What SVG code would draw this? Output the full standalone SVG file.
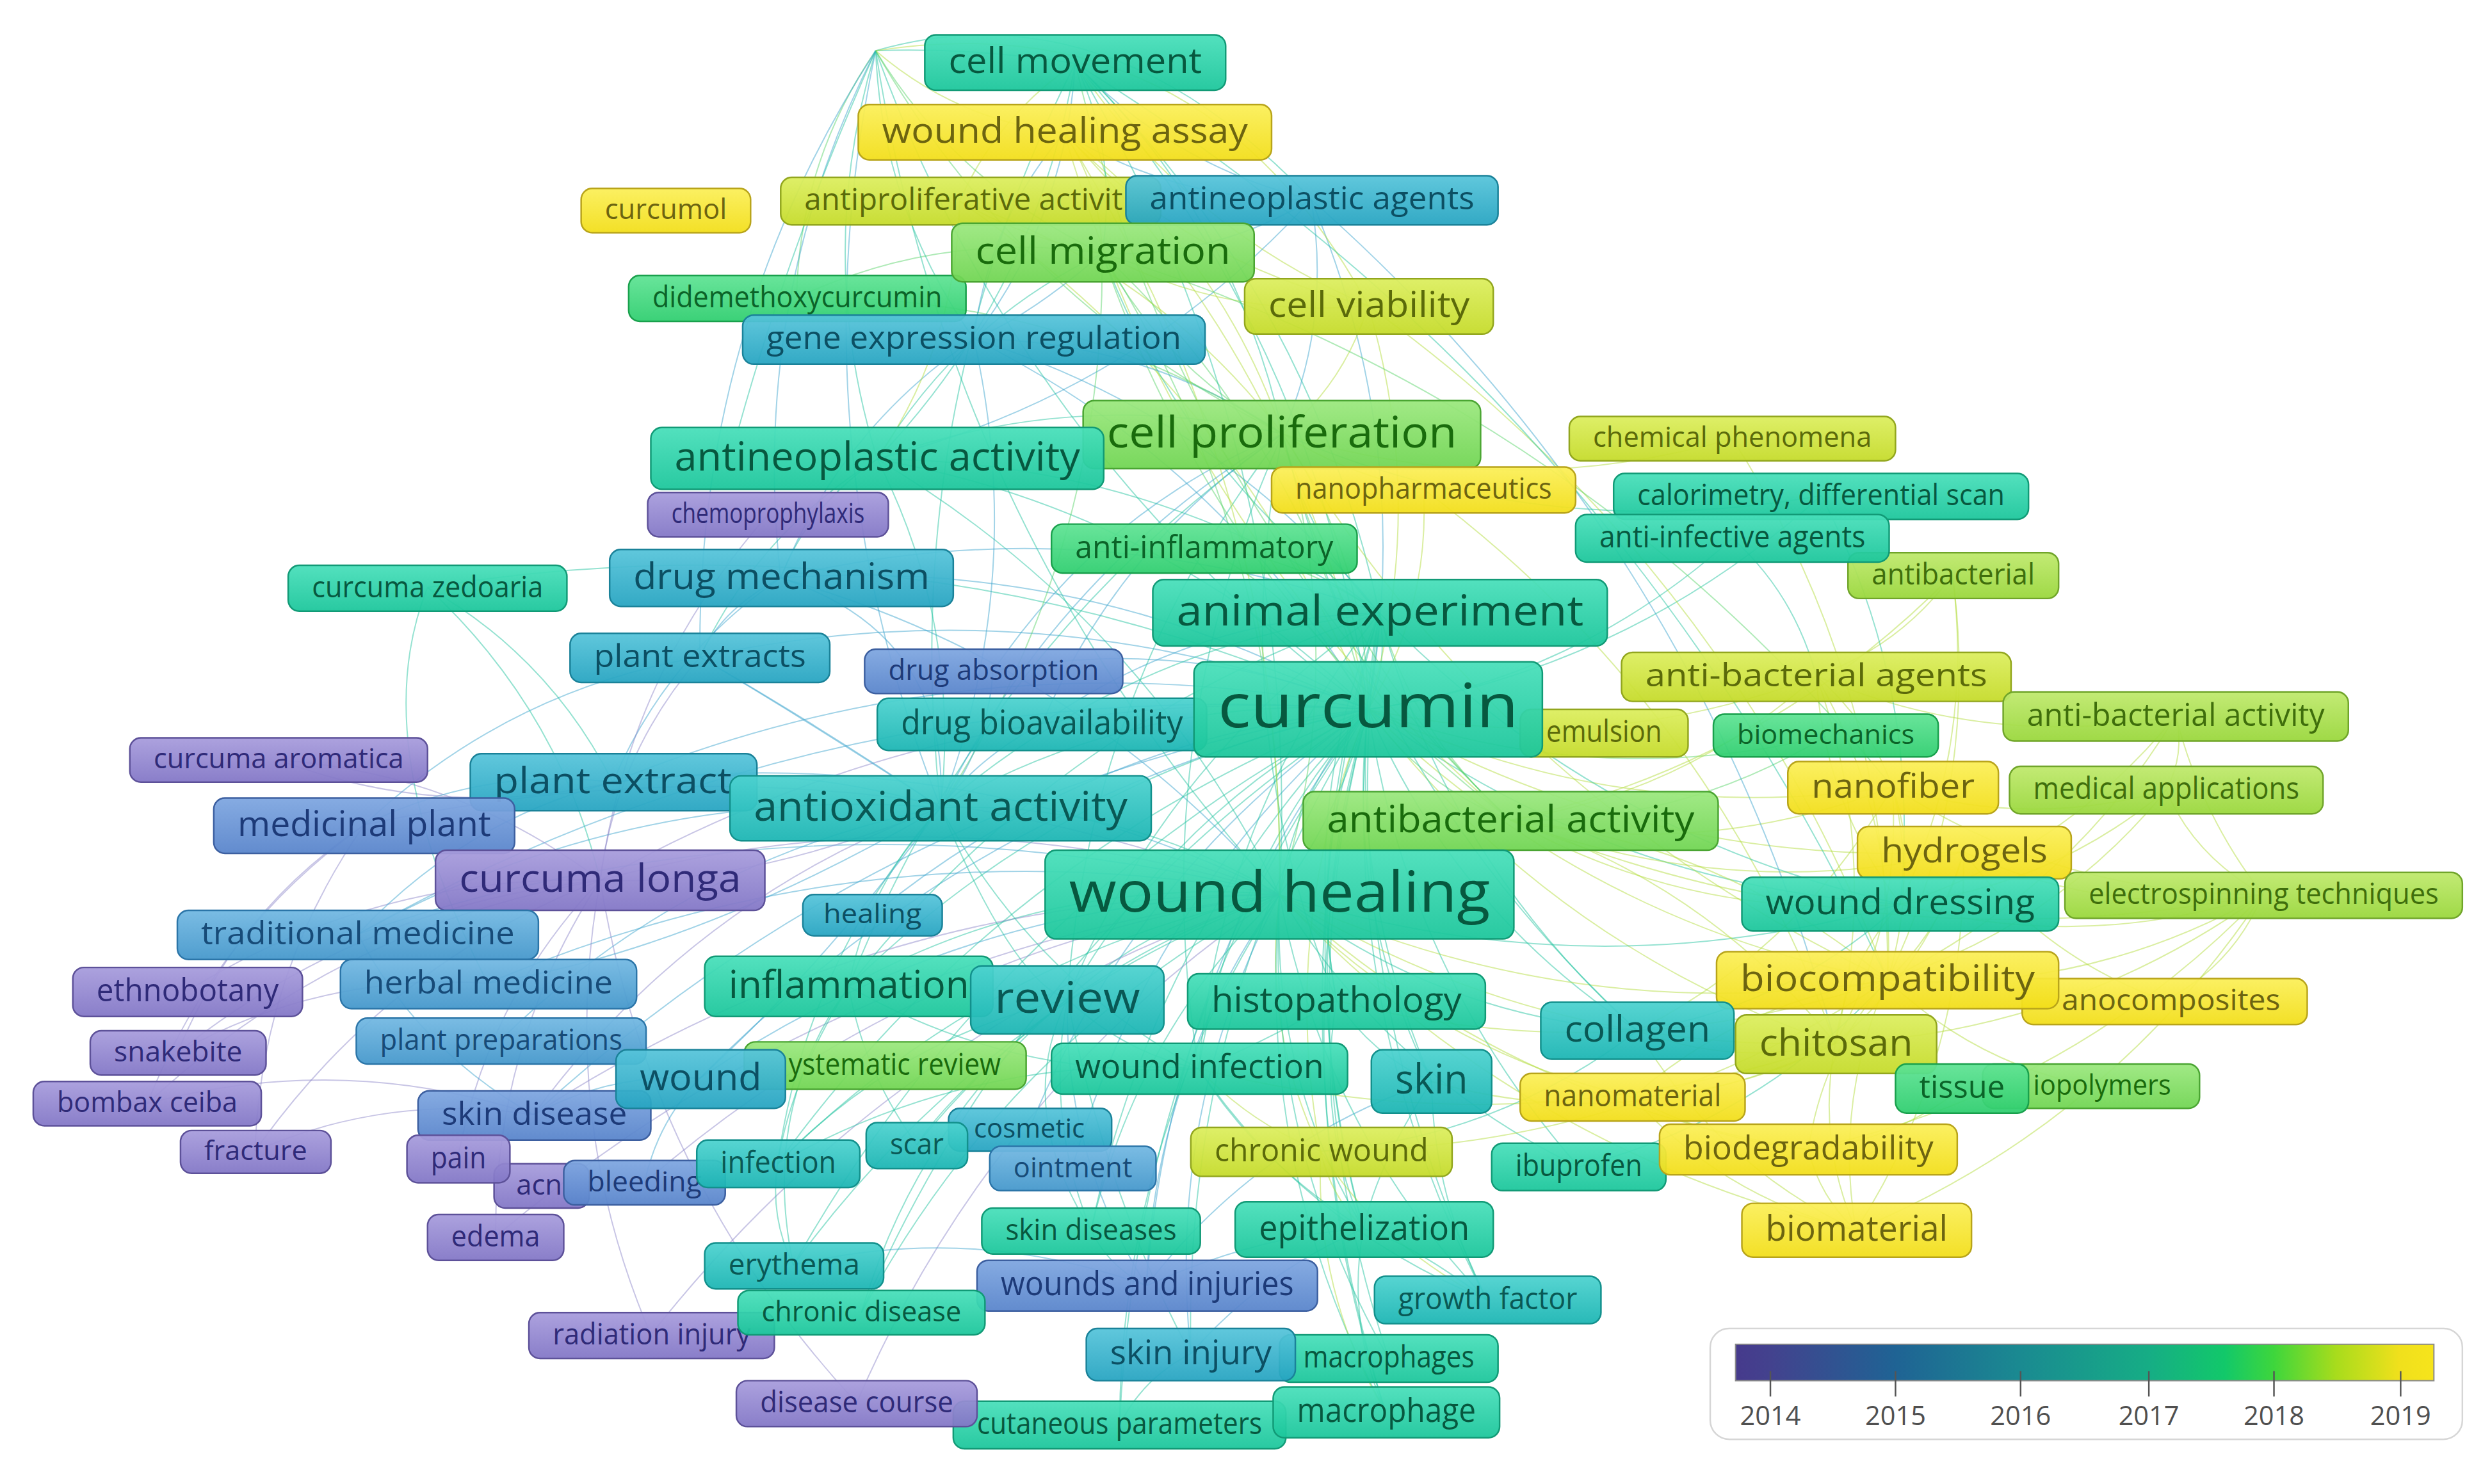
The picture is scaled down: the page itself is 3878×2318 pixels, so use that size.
<svg xmlns="http://www.w3.org/2000/svg" width="3878" height="2318" viewBox="0 0 3878 2318">
<style>
#connectors path{fill:none;stroke-width:.8;stroke-opacity:.48}
.e1{stroke:#22c29e}.e2{stroke:#3aa4cc}.e3{stroke:#b2dc3a}.e4{stroke:#8c86c8}.e5{stroke:#58d468}
#nodes rect{stroke-width:1;fill-opacity:.94;rx:7px;ry:7px}
#nodes text{font-family:'Open Sans','Liberation Sans',sans-serif;text-anchor:middle}
#nodes text.st{text-anchor:start}
.P rect{fill:url(#gP);stroke:#5d5199}.P text{fill:#2f2a78}
.B1 rect{fill:url(#gB1);stroke:#3c5fa0}.B1 text{fill:#1d3a78}
.B2 rect{fill:url(#gB2);stroke:#2b75a8}.B2 text{fill:#174b78}
.T1 rect{fill:url(#gT1);stroke:#1a8299}.T1 text{fill:#0c4f63}
.T2 rect{fill:url(#gT2);stroke:#12908c}.T2 text{fill:#095855}
.G1 rect{fill:url(#gG1);stroke:#119a76}.G1 text{fill:#07583f}
.G2 rect{fill:url(#gG2);stroke:#19a04c}.G2 text{fill:#0b6328}
.G3 rect{fill:url(#gG3);stroke:#4aa532}.G3 text{fill:#196b0c}
.Y1 rect{fill:url(#gY1);stroke:#70a52a}.Y1 text{fill:#3f6e0c}
.Y2 rect{fill:url(#gY2);stroke:#92a61e}.Y2 text{fill:#5b6a0a}
.Y3 rect{fill:url(#gY3);stroke:#b8a41a}.Y3 text{fill:#6c6410}
#legend text{font-family:'Open Sans','Liberation Sans',sans-serif;font-size:16.8px;fill:#505050;text-anchor:middle}
#legend line{stroke:#555;stroke-width:1}
</style>
<defs>
<linearGradient id="gP" x1="0" y1="0" x2="0" y2="1"><stop offset="0" stop-color="#a79cdc"/><stop offset="1" stop-color="#8276c6"/></linearGradient>
<linearGradient id="gB1" x1="0" y1="0" x2="0" y2="1"><stop offset="0" stop-color="#7ea6e0"/><stop offset="1" stop-color="#5884cb"/></linearGradient>
<linearGradient id="gB2" x1="0" y1="0" x2="0" y2="1"><stop offset="0" stop-color="#72b8e2"/><stop offset="1" stop-color="#4497cb"/></linearGradient>
<linearGradient id="gT1" x1="0" y1="0" x2="0" y2="1"><stop offset="0" stop-color="#56c4da"/><stop offset="1" stop-color="#26a4c1"/></linearGradient>
<linearGradient id="gT2" x1="0" y1="0" x2="0" y2="1"><stop offset="0" stop-color="#4cd2cf"/><stop offset="1" stop-color="#1bb5b3"/></linearGradient>
<linearGradient id="gG1" x1="0" y1="0" x2="0" y2="1"><stop offset="0" stop-color="#48dfba"/><stop offset="1" stop-color="#1bc69b"/></linearGradient>
<linearGradient id="gG2" x1="0" y1="0" x2="0" y2="1"><stop offset="0" stop-color="#5fe394"/><stop offset="1" stop-color="#2fce6f"/></linearGradient>
<linearGradient id="gG3" x1="0" y1="0" x2="0" y2="1"><stop offset="0" stop-color="#9be87e"/><stop offset="1" stop-color="#70d552"/></linearGradient>
<linearGradient id="gY1" x1="0" y1="0" x2="0" y2="1"><stop offset="0" stop-color="#bfe96c"/><stop offset="1" stop-color="#99d73b"/></linearGradient>
<linearGradient id="gY2" x1="0" y1="0" x2="0" y2="1"><stop offset="0" stop-color="#dcee5e"/><stop offset="1" stop-color="#c5db29"/></linearGradient>
<linearGradient id="gY3" x1="0" y1="0" x2="0" y2="1"><stop offset="0" stop-color="#fbef58"/><stop offset="1" stop-color="#f2de19"/></linearGradient>
<linearGradient id="gBar" x1="0" y1="0" x2="1" y2="0">
<stop offset="0" stop-color="#463a8c"/><stop offset="0.05" stop-color="#43428e"/><stop offset="0.229" stop-color="#1f6394"/><stop offset="0.408" stop-color="#1a8a91"/><stop offset="0.592" stop-color="#16ad85"/><stop offset="0.70" stop-color="#12c86a"/><stop offset="0.771" stop-color="#3ed63c"/><stop offset="0.86" stop-color="#a8dc1c"/><stop offset="0.95" stop-color="#f0e01c"/><stop offset="1" stop-color="#f6e41c"/>
</linearGradient>
</defs>
<rect width="3878" height="2318" fill="#ffffff"/>
<g transform="scale(2.4732)">
<g id="connectors">
<path class="e1" d="M864 448Q833 216 679 40"/><path class="e3" d="M864 448Q823 237 672 84"/><path class="e3" d="M864 448Q783 249 606 127"/><path class="e2" d="M864 448Q894 282 828 126"/><path class="e5" d="M864 448Q823 279 696 160"/><path class="e2" d="M864 448Q775 294 615 214"/><path class="e5" d="M864 448Q863 353 810 274"/><path class="e1" d="M864 448Q733 322 554 290"/><path class="e3" d="M864 448Q903 384 899 309"/><path class="e1" d="M864 448Q1027 424 1150 313"/><path class="e1" d="M864 448Q995 429 1094 340"/><path class="e2" d="M864 448Q691 351 493 365"/><path class="e1" d="M864 448Q877 419 871 387"/><path class="e2" d="M864 448Q658 369 442 415"/><path class="e2" d="M864 448Q750 400 627 424"/><path class="e2" d="M864 448Q619 399 387 494"/><path class="e1" d="M864 448Q720 438 594 510"/><path class="e5" d="M864 448Q898 497 954 518"/><path class="e4" d="M864 448Q606 429 379 556"/><path class="e1" d="M864 448Q818 499 808 565"/><path class="e2" d="M864 448Q688 466 551 578"/><path class="e2" d="M864 448Q524 423 226 590"/><path class="e1" d="M864 448Q674 487 536 623"/><path class="e1" d="M864 448Q742 511 674 631"/><path class="e1" d="M864 448Q826 537 844 632"/><path class="e1" d="M864 448Q919 576 1034 651"/><path class="e3" d="M864 448Q980 598 1159 659"/><path class="e2" d="M864 448Q618 502 442 681"/><path class="e1" d="M864 448Q777 546 757 675"/><path class="e1" d="M864 448Q849 572 904 683"/><path class="e2" d="M864 448Q563 497 337 704"/><path class="e1" d="M864 448Q635 536 491 735"/><path class="e2" d="M864 448Q717 549 650 713"/><path class="e2" d="M864 448Q727 565 677 738"/><path class="e3" d="M864 448Q807 583 834 727"/><path class="e1" d="M864 448Q888 613 997 737"/><path class="e1" d="M864 448Q728 587 689 777"/><path class="e1" d="M864 448Q814 612 861 776"/><path class="e1" d="M864 448Q630 570 501 799"/><path class="e2" d="M864 448Q739 609 724 812"/><path class="e1" d="M864 448Q846 646 939 821"/><path class="e1" d="M864 448Q647 591 544 829"/><path class="e1" d="M864 448Q747 635 752 855"/><path class="e1" d="M864 448Q809 655 877 858"/><path class="e1" d="M864 448Q803 672 875 892"/><path class="e1" d="M864 448Q718 650 707 900"/><path class="e1" d="M864 448Q579 321 270 371"/><path class="e3" d="M864 448Q1002 583 1192 619"/><path class="e1" d="M864 448Q1014 560 1200 571"/><path class="e3" d="M864 448Q1023 523 1195 497"/><path class="e3" d="M864 448Q1038 549 1240 538"/><path class="e3" d="M864 448Q1009 480 1147 427"/><path class="e5" d="M864 448Q1006 500 1153 465"/><path class="e3" d="M864 448Q902 321 864 193"/><path class="e5" d="M864 448Q827 381 760 346"/>
<path class="e1" d="M808 565Q823 284 679 40"/><path class="e5" d="M808 565Q813 346 696 160"/><path class="e5" d="M808 565Q853 420 810 274"/><path class="e1" d="M808 565Q722 390 554 290"/><path class="e2" d="M808 565Q681 418 493 365"/><path class="e1" d="M808 565Q867 485 871 387"/><path class="e2" d="M808 565Q609 467 387 494"/><path class="e1" d="M808 565Q709 506 594 510"/><path class="e4" d="M808 565Q526 456 230 521"/><path class="e4" d="M808 565Q595 497 379 556"/><path class="e2" d="M808 565Q513 491 226 590"/><path class="e2" d="M808 565Q550 518 308 621"/><path class="e1" d="M808 565Q663 553 536 623"/><path class="e1" d="M808 565Q731 578 674 631"/><path class="e1" d="M808 565Q908 642 1034 651"/><path class="e3" d="M808 565Q970 665 1159 659"/><path class="e3" d="M808 565Q992 650 1192 619"/><path class="e1" d="M808 565Q1003 627 1200 571"/><path class="e2" d="M808 565Q608 568 442 681"/><path class="e4" d="M808 565Q552 564 337 704"/><path class="e4" d="M808 565Q581 596 407 747"/><path class="e1" d="M808 565Q624 602 491 735"/><path class="e1" d="M808 565Q670 610 579 723"/><path class="e3" d="M808 565Q797 650 834 727"/><path class="e1" d="M808 565Q803 679 861 776"/><path class="e1" d="M808 565Q717 653 689 777"/><path class="e1" d="M808 565Q620 636 501 799"/><path class="e2" d="M808 565Q729 676 724 812"/><path class="e1" d="M808 565Q836 713 939 821"/><path class="e2" d="M808 565Q736 702 752 855"/><path class="e1" d="M808 565Q799 722 877 858"/><path class="e1" d="M808 565Q793 739 875 892"/><path class="e4" d="M808 565Q568 644 411 843"/><path class="e4" d="M808 565Q529 599 313 781"/><path class="e1" d="M808 565Q636 657 544 829"/><path class="e4" d="M808 565Q627 686 541 886"/><path class="e1" d="M808 565Q708 718 707 900"/><path class="e1" d="M808 565Q877 679 997 737"/><path class="e3" d="M808 565Q901 662 1031 693"/><path class="e3" d="M808 565Q951 696 1142 726"/><path class="e3" d="M808 565Q958 726 1172 777"/>
<path class="e3" d="M1192 619Q1228 585 1240 538"/><path class="e3" d="M1192 619Q1211 558 1195 497"/><path class="e3" d="M1192 619Q1151 664 1142 726"/><path class="e3" d="M1192 619Q1158 695 1172 777"/><path class="e3" d="M1192 619Q1100 632 1031 693"/><path class="e3" d="M1192 619Q1318 628 1429 565"/><path class="e3" d="M1192 619Q1246 671 1320 686"/><path class="e3" d="M1192 619Q1298 585 1368 499"/><path class="e3" d="M1192 619Q1308 562 1374 452"/><path class="e3" d="M1192 619Q1198 516 1147 427"/><path class="e3" d="M1192 619Q1088 532 954 518"/><path class="e3" d="M1159 659Q1218 610 1240 538"/><path class="e3" d="M1159 659Q1201 583 1195 497"/><path class="e3" d="M1159 659Q1147 720 1172 777"/><path class="e3" d="M1159 659Q1188 541 1147 427"/><path class="e3" d="M1159 659Q1077 557 954 518"/><path class="e3" d="M1159 659Q1308 652 1429 565"/><path class="e3" d="M1200 571Q1208 533 1195 497"/><path class="e3" d="M1200 571Q1315 602 1429 565"/><path class="e3" d="M1200 571Q1295 560 1368 499"/><path class="e3" d="M1200 571Q1305 537 1374 452"/><path class="e3" d="M1200 571Q1166 609 1159 659"/><path class="e3" d="M1147 427Q1256 474 1374 452"/><path class="e3" d="M1147 427Q1200 408 1233 363"/><path class="e3" d="M954 518Q1116 482 1233 363"/><path class="e3" d="M954 518Q1064 501 1147 427"/><path class="e3" d="M954 518Q1077 543 1195 497"/><path class="e3" d="M954 518Q1094 571 1240 538"/><path class="e3" d="M954 518Q1184 612 1429 565"/><path class="e5" d="M954 518Q1061 521 1153 465"/><path class="e3" d="M1195 497Q1302 566 1429 565"/><path class="e3" d="M1195 497Q1281 524 1368 499"/><path class="e3" d="M1240 538Q1289 604 1367 632"/><path class="e3" d="M1142 726Q1149 756 1172 777"/><path class="e3" d="M1142 726Q1196 721 1239 687"/><path class="e3" d="M1034 651Q1095 674 1159 659"/><path class="e3" d="M1034 651Q1084 735 1172 777"/><path class="e3" d="M1031 693Q1088 756 1172 777"/><path class="e3" d="M1094 277Q1194 433 1192 619"/><path class="e1" d="M1150 313Q1214 434 1200 571"/><path class="e1" d="M1094 340Q1133 375 1147 427"/><path class="e3" d="M1233 363Q1247 472 1200 571"/><path class="e3" d="M899 309Q1081 445 1159 659"/><path class="e3" d="M834 727Q1029 727 1192 619"/><path class="e1" d="M834 727Q945 719 1034 651"/>
<path class="e3" d="M1147 427Q1180 455 1195 497"/><path class="e3" d="M1147 427Q1152 507 1200 571"/><path class="e3" d="M1374 452Q1390 515 1429 565"/><path class="e3" d="M1374 452Q1380 476 1368 499"/><path class="e3" d="M1368 499Q1385 540 1429 565"/><path class="e3" d="M1240 538Q1331 580 1429 565"/><path class="e3" d="M1031 693Q1100 690 1159 659"/><path class="e3" d="M1142 726Q1080 720 1031 693"/><path class="e3" d="M1192 619Q1251 497 1233 363"/><path class="e3" d="M1429 565Q1410 610 1367 632"/><path class="e3" d="M1142 726Q1310 689 1429 565"/><path class="e3" d="M1172 777Q1332 710 1429 565"/><path class="e3" d="M1172 777Q1242 668 1240 538"/><path class="e1" d="M997 737Q1112 707 1192 619"/><path class="e3" d="M757 675Q960 727 1159 659"/><path class="e3" d="M844 632Q1020 678 1192 619"/><path class="e3" d="M904 683Q1033 720 1159 659"/><path class="e1" d="M1034 651Q1129 636 1200 571"/><path class="e3" d="M1034 651Q1138 598 1195 497"/><path class="e3" d="M954 518Q1069 582 1200 571"/>
<path class="e1" d="M871 387Q714 407 594 510"/><path class="e1" d="M871 387Q668 455 536 623"/><path class="e1" d="M871 387Q736 479 674 631"/><path class="e1" d="M871 387Q821 506 844 632"/><path class="e1" d="M871 387Q771 514 757 675"/><path class="e1" d="M871 387Q913 543 1034 651"/><path class="e1" d="M871 387Q808 580 861 776"/><path class="e1" d="M871 387Q843 540 904 683"/><path class="e5" d="M871 387Q893 465 954 518"/><path class="e1" d="M871 387Q1008 528 1200 571"/><path class="e1" d="M871 387Q840 614 939 821"/><path class="e1" d="M871 387Q797 640 875 892"/><path class="e2" d="M871 387Q754 390 658 457"/><path class="e2" d="M871 387Q769 262 615 214"/><path class="e1" d="M871 387Q827 185 679 40"/><path class="e2" d="M871 387Q685 319 493 365"/><path class="e1" d="M871 387Q727 291 554 290"/><path class="e5" d="M871 387Q815 350 760 346"/>
<path class="e1" d="M594 510Q548 558 536 623"/><path class="e1" d="M594 510Q607 394 554 290"/><path class="e2" d="M594 510Q649 365 615 214"/><path class="e5" d="M594 510Q698 350 696 160"/><path class="e1" d="M594 510Q651 617 757 675"/><path class="e2" d="M594 510Q624 472 627 424"/><path class="e2" d="M594 510Q398 495 226 590"/><path class="e4" d="M594 510Q437 568 337 704"/><path class="e2" d="M594 510Q433 542 316 657"/><path class="e1" d="M594 510Q509 607 491 735"/>
<path class="e1" d="M810 274Q723 467 757 675"/><path class="e1" d="M810 274Q773 458 844 632"/><path class="e1" d="M810 274Q688 432 674 631"/><path class="e1" d="M810 274Q621 407 536 623"/><path class="e1" d="M810 274Q865 496 1034 651"/><path class="e3" d="M810 274Q949 504 1192 619"/><path class="e2" d="M810 274Q696 322 627 424"/><path class="e2" d="M810 274Q707 343 658 457"/><path class="e1" d="M810 274Q974 345 1150 313"/><path class="e3" d="M810 274Q952 318 1094 277"/><path class="e3" d="M810 274Q850 300 899 309"/>
<path class="e3" d="M696 160Q645 150 606 127"/><path class="e5" d="M696 160Q595 145 503 188"/><path class="e2" d="M696 160Q650 200 615 214"/><path class="e1" d="M696 160Q605 204 554 290"/><path class="e1" d="M696 160Q749 300 871 387"/><path class="e5" d="M696 160Q771 378 954 518"/><path class="e2" d="M696 160Q767 163 828 126"/><path class="e3" d="M679 40Q749 144 864 193"/><path class="e2" d="M679 40Q741 105 828 126"/><path class="e3" d="M679 40Q630 73 606 127"/><path class="e5" d="M679 40Q745 320 954 518"/><path class="e1" d="M679 40Q566 262 594 510"/><path class="e2" d="M672 84Q744 128 828 126"/><path class="e3" d="M672 84Q752 167 864 193"/><path class="e2" d="M672 84Q624 140 615 214"/><path class="e3" d="M672 84Q748 343 954 518"/>
<path class="e1" d="M844 632Q795 660 757 675"/><path class="e1" d="M844 632Q831 707 861 776"/><path class="e1" d="M844 632Q866 666 904 683"/><path class="e1" d="M674 631Q710 665 757 675"/><path class="e1" d="M674 631Q567 656 491 735"/><path class="e1" d="M674 631Q660 706 689 777"/><path class="e2" d="M674 631Q672 729 724 812"/><path class="e1" d="M674 631Q579 710 544 829"/><path class="e1" d="M536 623Q639 682 757 675"/><path class="e1" d="M536 623Q500 680 491 735"/><path class="e1" d="M536 623Q545 676 579 723"/><path class="e1" d="M757 675Q795 735 861 776"/><path class="e1" d="M757 675Q615 665 491 735"/><path class="e1" d="M757 675Q826 775 939 821"/><path class="e3" d="M757 675Q790 710 834 727"/><path class="e1" d="M904 683Q870 735 861 776"/><path class="e1" d="M904 683Q905 755 939 821"/><path class="e2" d="M904 683Q795 720 724 812"/><path class="e2" d="M861 776Q795 780 724 812"/><path class="e2" d="M861 776Q795 805 752 855"/><path class="e1" d="M861 776Q850 835 875 892"/><path class="e3" d="M834 727Q830 816 875 892"/><path class="e3" d="M834 727Q870 785 939 821"/><path class="e2" d="M493 365Q455 385 442 415"/><path class="e2" d="M493 365Q421 414 387 494"/><path class="e2" d="M442 415Q510 455 594 510"/><path class="e4" d="M442 415Q389 476 379 556"/><path class="e2" d="M442 415Q320 436 230 521"/><path class="e2" d="M658 457Q618 478 594 510"/><path class="e1" d="M554 290Q510 320 493 365"/><path class="e1" d="M554 290Q479 336 442 415"/><path class="e4" d="M485 325Q397 425 379 556"/><path class="e2" d="M615 214Q531 271 493 365"/>
<path class="e1" d="M696 160Q706 97 679 40"/><path class="e3" d="M696 160Q695 118 672 84"/><path class="e3" d="M696 160Q775 202 864 193"/><path class="e5" d="M696 160Q736 234 810 274"/><path class="e1" d="M810 274Q780 137 679 40"/><path class="e3" d="M810 274Q770 158 672 84"/><path class="e2" d="M810 274Q841 203 828 126"/><path class="e3" d="M810 274Q849 242 864 193"/><path class="e3" d="M810 274Q730 170 606 127"/><path class="e2" d="M810 274Q722 215 615 214"/><path class="e1" d="M810 274Q680 244 554 290"/><path class="e1" d="M810 274Q824 340 871 387"/><path class="e2" d="M810 274Q667 360 594 510"/><path class="e5" d="M810 274Q845 418 954 518"/><path class="e5" d="M810 274Q670 185 503 188"/><path class="e2" d="M554 290Q716 249 828 126"/><path class="e3" d="M554 290Q604 217 606 127"/><path class="e1" d="M554 290Q655 184 679 40"/><path class="e2" d="M615 214Q673 137 679 40"/>
<path class="e1" d="M553 32Q557 132 615 214"/><path class="e1" d="M553 32Q514 161 554 290"/><path class="e5" d="M553 32Q505 102 503 188"/><path class="e5" d="M553 32Q605 117 696 160"/><path class="e2" d="M553 32Q473 189 493 365"/><path class="e2" d="M553 32Q440 206 442 415"/><path class="e1" d="M553 32Q646 287 864 448"/><path class="e1" d="M553 32Q600 336 808 565"/><path class="e2" d="M553 32Q501 277 594 510"/><path class="e1" d="M553 32Q616 30 679 40"/><path class="e3" d="M553 32Q604 76 672 84"/><path class="e5" d="M553 32Q645 192 810 274"/><path class="e1" d="M553 32Q500 150 466 272"/><path class="e1" d="M553 32Q700 -10 828 126"/><path class="e3" d="M553 32Q760 0 864 193"/>
<path class="e3" d="M864 193Q1092 357 1192 619"/><path class="e2" d="M828 126Q1073 342 1159 659"/><path class="e3" d="M672 84Q812 304 808 565"/><path class="e1" d="M679 40Q1022 252 1192 619"/><path class="e5" d="M696 160Q996 253 1195 497"/>
<path class="e4" d="M379 556Q289 488 176 480"/><path class="e4" d="M379 556Q238 552 118 626"/><path class="e4" d="M379 556Q230 571 112 665"/><path class="e4" d="M379 556Q215 584 93 697"/><path class="e4" d="M379 556Q244 609 161 727"/><path class="e4" d="M379 556Q308 630 289 732"/><path class="e4" d="M379 556Q312 659 313 781"/><path class="e4" d="M379 556Q352 705 411 843"/><path class="e4" d="M379 556Q410 745 541 886"/><path class="e1" d="M379 556Q353 448 270 371"/><path class="e4" d="M230 521Q149 575 112 665"/><path class="e4" d="M230 521Q136 588 93 697"/><path class="e4" d="M230 521Q165 614 161 727"/><path class="e2" d="M226 590Q265 664 337 704"/><path class="e4" d="M308 621Q203 614 112 665"/><path class="e4" d="M337 704Q216 664 93 697"/><path class="e4" d="M337 704Q246 690 161 727"/><path class="e1" d="M387 494Q347 415 270 371"/><path class="e2" d="M387 494Q305 484 230 521"/><path class="e2" d="M387 494Q293 518 226 590"/><path class="e2" d="M442 681Q387 677 337 704"/><path class="e2" d="M442 681Q415 709 407 747"/><path class="e1" d="M491 735Q486 769 501 799"/><path class="e4" d="M176 480Q279 519 387 494"/><path class="e1" d="M270 371Q230 470 308 621"/>
<path class="e2" d="M594 510Q500 480 387 494"/><path class="e2" d="M594 510Q520 610 442 681"/><path class="e2" d="M594 510Q600 400 493 365"/><path class="e1" d="M594 510Q640 620 674 631"/><path class="e4" d="M594 510Q470 560 379 556"/><path class="e2" d="M594 510Q440 600 308 621"/><path class="e2" d="M594 510Q520 460 442 415"/>
<path class="e2" d="M724 812Q614 772 501 799"/><path class="e1" d="M752 855Q722 870 707 900"/><path class="e1" d="M939 821Q893 786 861 776"/><path class="e1" d="M689 777Q700 800 724 812"/><path class="e3" d="M834 727Q840 755 861 776"/><path class="e1" d="M674 631Q640 700 689 777"/><path class="e1" d="M674 631Q600 690 579 723"/><path class="e1" d="M674 631Q700 760 752 855"/><path class="e1" d="M536 623Q480 700 501 799"/>
</g>
<g id="nodes">
<g id="node-wound-healing-assay" class="Y3"><rect x="542" y="66" width="261" height="35"/><text x="672.5" y="90.2" font-size="22.4" textLength="231" lengthAdjust="spacingAndGlyphs">wound healing assay</text></g>
<g id="node-cell-movement" class="G1"><rect x="584" y="22" width="190" height="35"/><text x="679" y="46.2" font-size="22.4" textLength="160" lengthAdjust="spacingAndGlyphs">cell movement</text></g>
<g id="node-curcumol" class="Y3"><rect x="367" y="119" width="107" height="28"/><text x="420.5" y="138.4" font-size="17.9" textLength="77" lengthAdjust="spacingAndGlyphs">curcumol</text></g>
<g id="node-antiproliferative-activity" class="Y2"><rect x="493" y="112" width="240" height="30"/><text class="st" x="508" y="132.8" font-size="19.2" textLength="201" lengthAdjust="spacingAndGlyphs">antiproliferative activit</text></g>
<g id="node-antineoplastic-agents" class="T1"><rect x="711" y="111" width="235" height="31"/><text x="828.5" y="132.4" font-size="19.8" textLength="205" lengthAdjust="spacingAndGlyphs">antineoplastic agents</text></g>
<g id="node-didemethoxycurcumin" class="G2"><rect x="397" y="174" width="213" height="29"/><text x="503.5" y="194.1" font-size="18.6" textLength="183" lengthAdjust="spacingAndGlyphs">didemethoxycurcumin</text></g>
<g id="node-gene-expression-regulation" class="T1"><rect x="469" y="199" width="292" height="31"/><text x="615" y="220.4" font-size="19.8" textLength="262" lengthAdjust="spacingAndGlyphs">gene expression regulation</text></g>
<g id="node-cell-migration" class="G3"><rect x="601" y="141" width="191" height="37"/><text x="696.5" y="166.6" font-size="23.7" textLength="161" lengthAdjust="spacingAndGlyphs">cell migration</text></g>
<g id="node-cell-viability" class="Y2"><rect x="786" y="176" width="157" height="35"/><text x="864.5" y="200.2" font-size="22.4" textLength="127" lengthAdjust="spacingAndGlyphs">cell viability</text></g>
<g id="node-cell-proliferation" class="G3"><rect x="684" y="253" width="251" height="43"/><text x="809.5" y="282.8" font-size="27.5" textLength="221" lengthAdjust="spacingAndGlyphs">cell proliferation</text></g>
<g id="node-antineoplastic-activity" class="G1"><rect x="411" y="270" width="286" height="39"/><text x="554" y="297" font-size="25" textLength="256" lengthAdjust="spacingAndGlyphs">antineoplastic activity</text></g>
<g id="node-chemical-phenomena" class="Y2"><rect x="991" y="263" width="206" height="28"/><text x="1094" y="282.4" font-size="17.9" textLength="176" lengthAdjust="spacingAndGlyphs">chemical phenomena</text></g>
<g id="node-nanopharmaceutics" class="Y3"><rect x="803" y="295" width="192" height="29"/><text x="899" y="315.1" font-size="18.6" textLength="162" lengthAdjust="spacingAndGlyphs">nanopharmaceutics</text></g>
<g id="node-antibacterial" class="Y1"><rect x="1167" y="349" width="133" height="29"/><text x="1233.5" y="369.1" font-size="18.6" textLength="103" lengthAdjust="spacingAndGlyphs">antibacterial</text></g>
<g id="node-calorimetry-differential-scan" class="G1"><rect x="1019" y="299" width="262" height="29"/><text x="1150" y="319.1" font-size="18.6" textLength="232" lengthAdjust="spacingAndGlyphs">calorimetry, differential scan</text></g>
<g id="node-anti-infective-agents" class="G1"><rect x="995" y="325" width="198" height="30"/><text x="1094" y="345.8" font-size="19.2" textLength="168" lengthAdjust="spacingAndGlyphs">anti-infective agents</text></g>
<g id="node-chemoprophylaxis" class="P"><rect x="409" y="311" width="152" height="28"/><text x="485" y="330.4" font-size="17.9" textLength="122" lengthAdjust="spacingAndGlyphs">chemoprophylaxis</text></g>
<g id="node-anti-inflammatory" class="G2"><rect x="664" y="331" width="193" height="31"/><text x="760.5" y="352.4" font-size="19.8" textLength="163" lengthAdjust="spacingAndGlyphs">anti-inflammatory</text></g>
<g id="node-curcuma-zedoaria" class="G1"><rect x="182" y="357" width="176" height="29"/><text x="270" y="377.1" font-size="18.6" textLength="146" lengthAdjust="spacingAndGlyphs">curcuma zedoaria</text></g>
<g id="node-drug-mechanism" class="T1"><rect x="385" y="347" width="217" height="36"/><text x="493.5" y="371.9" font-size="23" textLength="187" lengthAdjust="spacingAndGlyphs">drug mechanism</text></g>
<g id="node-animal-experiment" class="G1"><rect x="728" y="366" width="287" height="42"/><text x="871.5" y="395.1" font-size="26.9" textLength="257" lengthAdjust="spacingAndGlyphs">animal experiment</text></g>
<g id="node-plant-extracts" class="T1"><rect x="360" y="400" width="164" height="31"/><text x="442" y="421.4" font-size="19.8" textLength="134" lengthAdjust="spacingAndGlyphs">plant extracts</text></g>
<g id="node-drug-absorption" class="B1"><rect x="546" y="410" width="163" height="28"/><text x="627.5" y="429.4" font-size="17.9" textLength="133" lengthAdjust="spacingAndGlyphs">drug absorption</text></g>
<g id="node-drug-bioavailability" class="T2"><rect x="554" y="441" width="208" height="33"/><text x="658" y="463.8" font-size="21.1" textLength="178" lengthAdjust="spacingAndGlyphs">drug bioavailability</text></g>
<g id="node-emulsion" class="Y2"><rect x="960" y="448" width="106" height="30"/><text x="1013" y="468.8" font-size="19.2" textLength="73" lengthAdjust="spacingAndGlyphs">emulsion</text></g>
<g id="node-curcumin" class="G1"><rect x="754" y="418" width="220" height="60"/><text x="864" y="459.5" font-size="38.4" textLength="190" lengthAdjust="spacingAndGlyphs">curcumin</text></g>
<g id="node-anti-bacterial-agents" class="Y2"><rect x="1024" y="412" width="246" height="31"/><text x="1147" y="433.4" font-size="19.8" textLength="216" lengthAdjust="spacingAndGlyphs">anti-bacterial agents</text></g>
<g id="node-anti-bacterial-activity" class="Y1"><rect x="1265" y="437" width="218" height="31"/><text x="1374" y="458.4" font-size="19.8" textLength="188" lengthAdjust="spacingAndGlyphs">anti-bacterial activity</text></g>
<g id="node-biomechanics" class="G2"><rect x="1082" y="451" width="142" height="27"/><text x="1153" y="469.7" font-size="17.3" textLength="112" lengthAdjust="spacingAndGlyphs">biomechanics</text></g>
<g id="node-curcuma-aromatica" class="P"><rect x="82" y="466" width="188" height="28"/><text x="176" y="485.4" font-size="17.9" textLength="158" lengthAdjust="spacingAndGlyphs">curcuma aromatica</text></g>
<g id="node-plant-extract" class="T1"><rect x="297" y="476" width="181" height="36"/><text x="387" y="500.9" font-size="23" textLength="150" lengthAdjust="spacingAndGlyphs">plant extract</text></g>
<g id="node-medicinal-plant" class="B1"><rect x="135" y="504" width="190" height="35"/><text x="230" y="528.2" font-size="22.4" textLength="160" lengthAdjust="spacingAndGlyphs">medicinal plant</text></g>
<g id="node-curcuma-longa" class="P"><rect x="275" y="537" width="208" height="38"/><text x="379" y="563.3" font-size="24.3" textLength="178" lengthAdjust="spacingAndGlyphs">curcuma longa</text></g>
<g id="node-antioxidant-activity" class="T2"><rect x="461" y="490" width="266" height="41"/><text x="594" y="518.4" font-size="26.2" textLength="236" lengthAdjust="spacingAndGlyphs">antioxidant activity</text></g>
<g id="node-nanofiber" class="Y3"><rect x="1129" y="481" width="133" height="33"/><text x="1195.5" y="503.8" font-size="21.1" textLength="103" lengthAdjust="spacingAndGlyphs">nanofiber</text></g>
<g id="node-medical-applications" class="Y1"><rect x="1269" y="484" width="198" height="30"/><text x="1368" y="504.8" font-size="19.2" textLength="168" lengthAdjust="spacingAndGlyphs">medical applications</text></g>
<g id="node-antibacterial-activity" class="G3"><rect x="823" y="500" width="262" height="37"/><text x="954" y="525.6" font-size="23.7" textLength="232" lengthAdjust="spacingAndGlyphs">antibacterial activity</text></g>
<g id="node-wound-healing" class="G1"><rect x="660" y="537" width="296" height="56"/><text x="808" y="575.7" font-size="35.8" textLength="266" lengthAdjust="spacingAndGlyphs">wound healing</text></g>
<g id="node-hydrogels" class="Y3"><rect x="1173" y="522" width="135" height="33"/><text x="1240.5" y="544.8" font-size="21.1" textLength="105" lengthAdjust="spacingAndGlyphs">hydrogels</text></g>
<g id="node-healing" class="T1"><rect x="507" y="565" width="88" height="26"/><text x="551" y="583" font-size="16.6" textLength="62" lengthAdjust="spacingAndGlyphs">healing</text></g>
<g id="node-electrospinning-techniques" class="Y1"><rect x="1304" y="551" width="251" height="29"/><text x="1429.5" y="571.1" font-size="18.6" textLength="221" lengthAdjust="spacingAndGlyphs">electrospinning techniques</text></g>
<g id="node-wound-dressing" class="G1"><rect x="1100" y="554" width="200" height="34"/><text x="1200" y="577.5" font-size="21.8" textLength="170" lengthAdjust="spacingAndGlyphs">wound dressing</text></g>
<g id="node-traditional-medicine" class="B2"><rect x="112" y="575" width="228" height="31"/><text x="226" y="596.4" font-size="19.8" textLength="198" lengthAdjust="spacingAndGlyphs">traditional medicine</text></g>
<g id="node-nanocomposites" class="Y3"><rect x="1277" y="618" width="180" height="29"/><text class="st" x="1302" y="638.1" font-size="18.6" textLength="138" lengthAdjust="spacingAndGlyphs">anocomposites</text></g>
<g id="node-biocompatibility" class="Y3"><rect x="1084" y="601" width="216" height="36"/><text x="1192" y="625.9" font-size="23" textLength="186" lengthAdjust="spacingAndGlyphs">biocompatibility</text></g>
<g id="node-ethnobotany" class="P"><rect x="46" y="611" width="145" height="31"/><text x="118.5" y="632.4" font-size="19.8" textLength="115" lengthAdjust="spacingAndGlyphs">ethnobotany</text></g>
<g id="node-herbal-medicine" class="B2"><rect x="215" y="606" width="187" height="31"/><text x="308.5" y="627.4" font-size="19.8" textLength="157" lengthAdjust="spacingAndGlyphs">herbal medicine</text></g>
<g id="node-inflammation" class="G1"><rect x="445" y="604" width="182" height="38"/><text x="536" y="630.3" font-size="24.3" textLength="152" lengthAdjust="spacingAndGlyphs">inflammation</text></g>
<g id="node-review" class="T2"><rect x="613" y="610" width="122" height="43"/><text x="674" y="639.8" font-size="27.5" textLength="92" lengthAdjust="spacingAndGlyphs">review</text></g>
<g id="node-histopathology" class="G1"><rect x="750" y="615" width="188" height="35"/><text x="844" y="639.2" font-size="22.4" textLength="158" lengthAdjust="spacingAndGlyphs">histopathology</text></g>
<g id="node-collagen" class="T2"><rect x="973" y="633" width="122" height="36"/><text x="1034" y="657.9" font-size="23" textLength="92" lengthAdjust="spacingAndGlyphs">collagen</text></g>
<g id="node-chitosan" class="Y2"><rect x="1096" y="641" width="127" height="37"/><text x="1159.5" y="666.6" font-size="23.7" textLength="97" lengthAdjust="spacingAndGlyphs">chitosan</text></g>
<g id="node-plant-preparations" class="B2"><rect x="225" y="643" width="183" height="29"/><text x="316.5" y="663.1" font-size="18.6" textLength="153" lengthAdjust="spacingAndGlyphs">plant preparations</text></g>
<g id="node-snakebite" class="P"><rect x="57" y="651" width="111" height="28"/><text x="112.5" y="670.4" font-size="17.9" textLength="81" lengthAdjust="spacingAndGlyphs">snakebite</text></g>
<g id="node-systematic-review" class="G3"><rect x="470" y="658" width="178" height="30"/><text class="st" x="498" y="678.8" font-size="19.2" textLength="134" lengthAdjust="spacingAndGlyphs">ystematic review</text></g>
<g id="node-skin-disease" class="B1"><rect x="264" y="689" width="147" height="31"/><text x="337.5" y="710.4" font-size="19.8" textLength="117" lengthAdjust="spacingAndGlyphs">skin disease</text></g>
<g id="node-wound" class="T1"><rect x="389" y="663" width="107" height="37"/><text x="442.5" y="688.6" font-size="23.7" textLength="77" lengthAdjust="spacingAndGlyphs">wound</text></g>
<g id="node-wound-infection" class="G1"><rect x="664" y="659" width="187" height="32"/><text x="757.5" y="681.1" font-size="20.5" textLength="157" lengthAdjust="spacingAndGlyphs">wound infection</text></g>
<g id="node-skin" class="T2"><rect x="866" y="663" width="76" height="40"/><text x="904" y="690.7" font-size="25.6" textLength="46" lengthAdjust="spacingAndGlyphs">skin</text></g>
<g id="node-nanomaterial" class="Y3"><rect x="960" y="678" width="142" height="30"/><text x="1031" y="698.8" font-size="19.2" textLength="112" lengthAdjust="spacingAndGlyphs">nanomaterial</text></g>
<g id="node-biopolymers" class="G3"><rect x="1252" y="672" width="137" height="28"/><text class="st" x="1284" y="691.4" font-size="17.9" textLength="87" lengthAdjust="spacingAndGlyphs">iopolymers</text></g>
<g id="node-tissue" class="G2"><rect x="1197" y="672" width="84" height="31"/><text x="1239" y="693.4" font-size="19.8" textLength="54" lengthAdjust="spacingAndGlyphs">tissue</text></g>
<g id="node-bombax-ceiba" class="P"><rect x="21" y="683" width="144" height="28"/><text x="93" y="702.4" font-size="17.9" textLength="114" lengthAdjust="spacingAndGlyphs">bombax ceiba</text></g>
<g id="node-fracture" class="P"><rect x="114" y="714" width="95" height="27"/><text x="161.5" y="732.7" font-size="17.3" textLength="65" lengthAdjust="spacingAndGlyphs">fracture</text></g>
<g id="node-acne" class="P"><rect x="312" y="735" width="60" height="28"/><text class="st" x="326" y="754.4" font-size="17.9" textLength="29" lengthAdjust="spacingAndGlyphs">acn</text></g>
<g id="node-pain" class="P"><rect x="257" y="717" width="65" height="30"/><text x="289.5" y="737.8" font-size="19.2" textLength="35" lengthAdjust="spacingAndGlyphs">pain</text></g>
<g id="node-bleeding" class="B1"><rect x="356" y="733" width="102" height="28"/><text x="407" y="752.4" font-size="17.9" textLength="72" lengthAdjust="spacingAndGlyphs">bleeding</text></g>
<g id="node-infection" class="T2"><rect x="440" y="720" width="103" height="30"/><text x="491.5" y="740.8" font-size="19.2" textLength="73" lengthAdjust="spacingAndGlyphs">infection</text></g>
<g id="node-cosmetic" class="T1"><rect x="599" y="700" width="103" height="27"/><text x="650" y="718.7" font-size="17.3" textLength="70" lengthAdjust="spacingAndGlyphs">cosmetic</text></g>
<g id="node-scar" class="T2"><rect x="547" y="709" width="64" height="29"/><text x="579" y="729.1" font-size="18.6" textLength="34" lengthAdjust="spacingAndGlyphs">scar</text></g>
<g id="node-ointment" class="B2"><rect x="625" y="724" width="105" height="28"/><text x="677.5" y="743.4" font-size="17.9" textLength="75" lengthAdjust="spacingAndGlyphs">ointment</text></g>
<g id="node-chronic-wound" class="Y2"><rect x="752" y="712" width="165" height="31"/><text x="834.5" y="733.4" font-size="19.8" textLength="135" lengthAdjust="spacingAndGlyphs">chronic wound</text></g>
<g id="node-ibuprofen" class="G1"><rect x="942" y="722" width="110" height="30"/><text x="997" y="742.8" font-size="19.2" textLength="80" lengthAdjust="spacingAndGlyphs">ibuprofen</text></g>
<g id="node-biodegradability" class="Y3"><rect x="1048" y="710" width="188" height="32"/><text x="1142" y="732.1" font-size="20.5" textLength="158" lengthAdjust="spacingAndGlyphs">biodegradability</text></g>
<g id="node-edema" class="P"><rect x="270" y="767" width="86" height="29"/><text x="313" y="787.1" font-size="18.6" textLength="56" lengthAdjust="spacingAndGlyphs">edema</text></g>
<g id="node-skin-diseases" class="G1"><rect x="620" y="763" width="138" height="29"/><text x="689" y="783.1" font-size="18.6" textLength="108" lengthAdjust="spacingAndGlyphs">skin diseases</text></g>
<g id="node-epithelization" class="G1"><rect x="780" y="759" width="163" height="35"/><text x="861.5" y="783.2" font-size="22.4" textLength="133" lengthAdjust="spacingAndGlyphs">epithelization</text></g>
<g id="node-biomaterial" class="Y3"><rect x="1100" y="760" width="145" height="34"/><text x="1172.5" y="783.5" font-size="21.8" textLength="115" lengthAdjust="spacingAndGlyphs">biomaterial</text></g>
<g id="node-erythema" class="T2"><rect x="445" y="785" width="113" height="29"/><text x="501.5" y="805.1" font-size="18.6" textLength="83" lengthAdjust="spacingAndGlyphs">erythema</text></g>
<g id="node-wounds-and-injuries" class="B1"><rect x="617" y="796" width="215" height="32"/><text x="724.5" y="818.1" font-size="20.5" textLength="185" lengthAdjust="spacingAndGlyphs">wounds and injuries</text></g>
<g id="node-growth-factor" class="T2"><rect x="868" y="806" width="143" height="30"/><text x="939.5" y="826.8" font-size="19.2" textLength="113" lengthAdjust="spacingAndGlyphs">growth factor</text></g>
<g id="node-radiation-injury" class="P"><rect x="334" y="829" width="155" height="29"/><text x="411.5" y="849.1" font-size="18.6" textLength="125" lengthAdjust="spacingAndGlyphs">radiation injury</text></g>
<g id="node-chronic-disease" class="G1"><rect x="466" y="815" width="156" height="28"/><text x="544" y="834.4" font-size="17.9" textLength="126" lengthAdjust="spacingAndGlyphs">chronic disease</text></g>
<g id="node-macrophages" class="G1"><rect x="808" y="843" width="138" height="30"/><text x="877" y="863.8" font-size="19.2" textLength="108" lengthAdjust="spacingAndGlyphs">macrophages</text></g>
<g id="node-skin-injury" class="T1"><rect x="686" y="839" width="132" height="33"/><text x="752" y="861.8" font-size="21.1" textLength="102" lengthAdjust="spacingAndGlyphs">skin injury</text></g>
<g id="node-cutaneous-parameters" class="G1"><rect x="602" y="885" width="210" height="30"/><text x="707" y="905.8" font-size="19.2" textLength="180" lengthAdjust="spacingAndGlyphs">cutaneous parameters</text></g>
<g id="node-disease-course" class="P"><rect x="465" y="872" width="152" height="29"/><text x="541" y="892.1" font-size="18.6" textLength="122" lengthAdjust="spacingAndGlyphs">disease course</text></g>
<g id="node-macrophage" class="G1"><rect x="804" y="876" width="143" height="32"/><text x="875.5" y="898.1" font-size="20.5" textLength="113" lengthAdjust="spacingAndGlyphs">macrophage</text></g>
</g>
<g id="legend">
<rect x="1080" y="839" width="475" height="70" rx="12" fill="#ffffff" stroke="#d6d6d6" stroke-width="1"/>
<rect x="1096" y="849" width="441" height="23" fill="url(#gBar)" stroke="#8a8a8a" stroke-width=".8"/>
<line x1="1118" y1="866" x2="1118" y2="882"/><line x1="1197" y1="866" x2="1197" y2="882"/><line x1="1276" y1="866" x2="1276" y2="882"/><line x1="1357" y1="866" x2="1357" y2="882"/><line x1="1436" y1="866" x2="1436" y2="882"/><line x1="1516" y1="866" x2="1516" y2="882"/>
<text x="1118" y="900">2014</text><text x="1197" y="900">2015</text><text x="1276" y="900">2016</text><text x="1357" y="900">2017</text><text x="1436" y="900">2018</text><text x="1516" y="900">2019</text>
</g>
</g>
</svg>
